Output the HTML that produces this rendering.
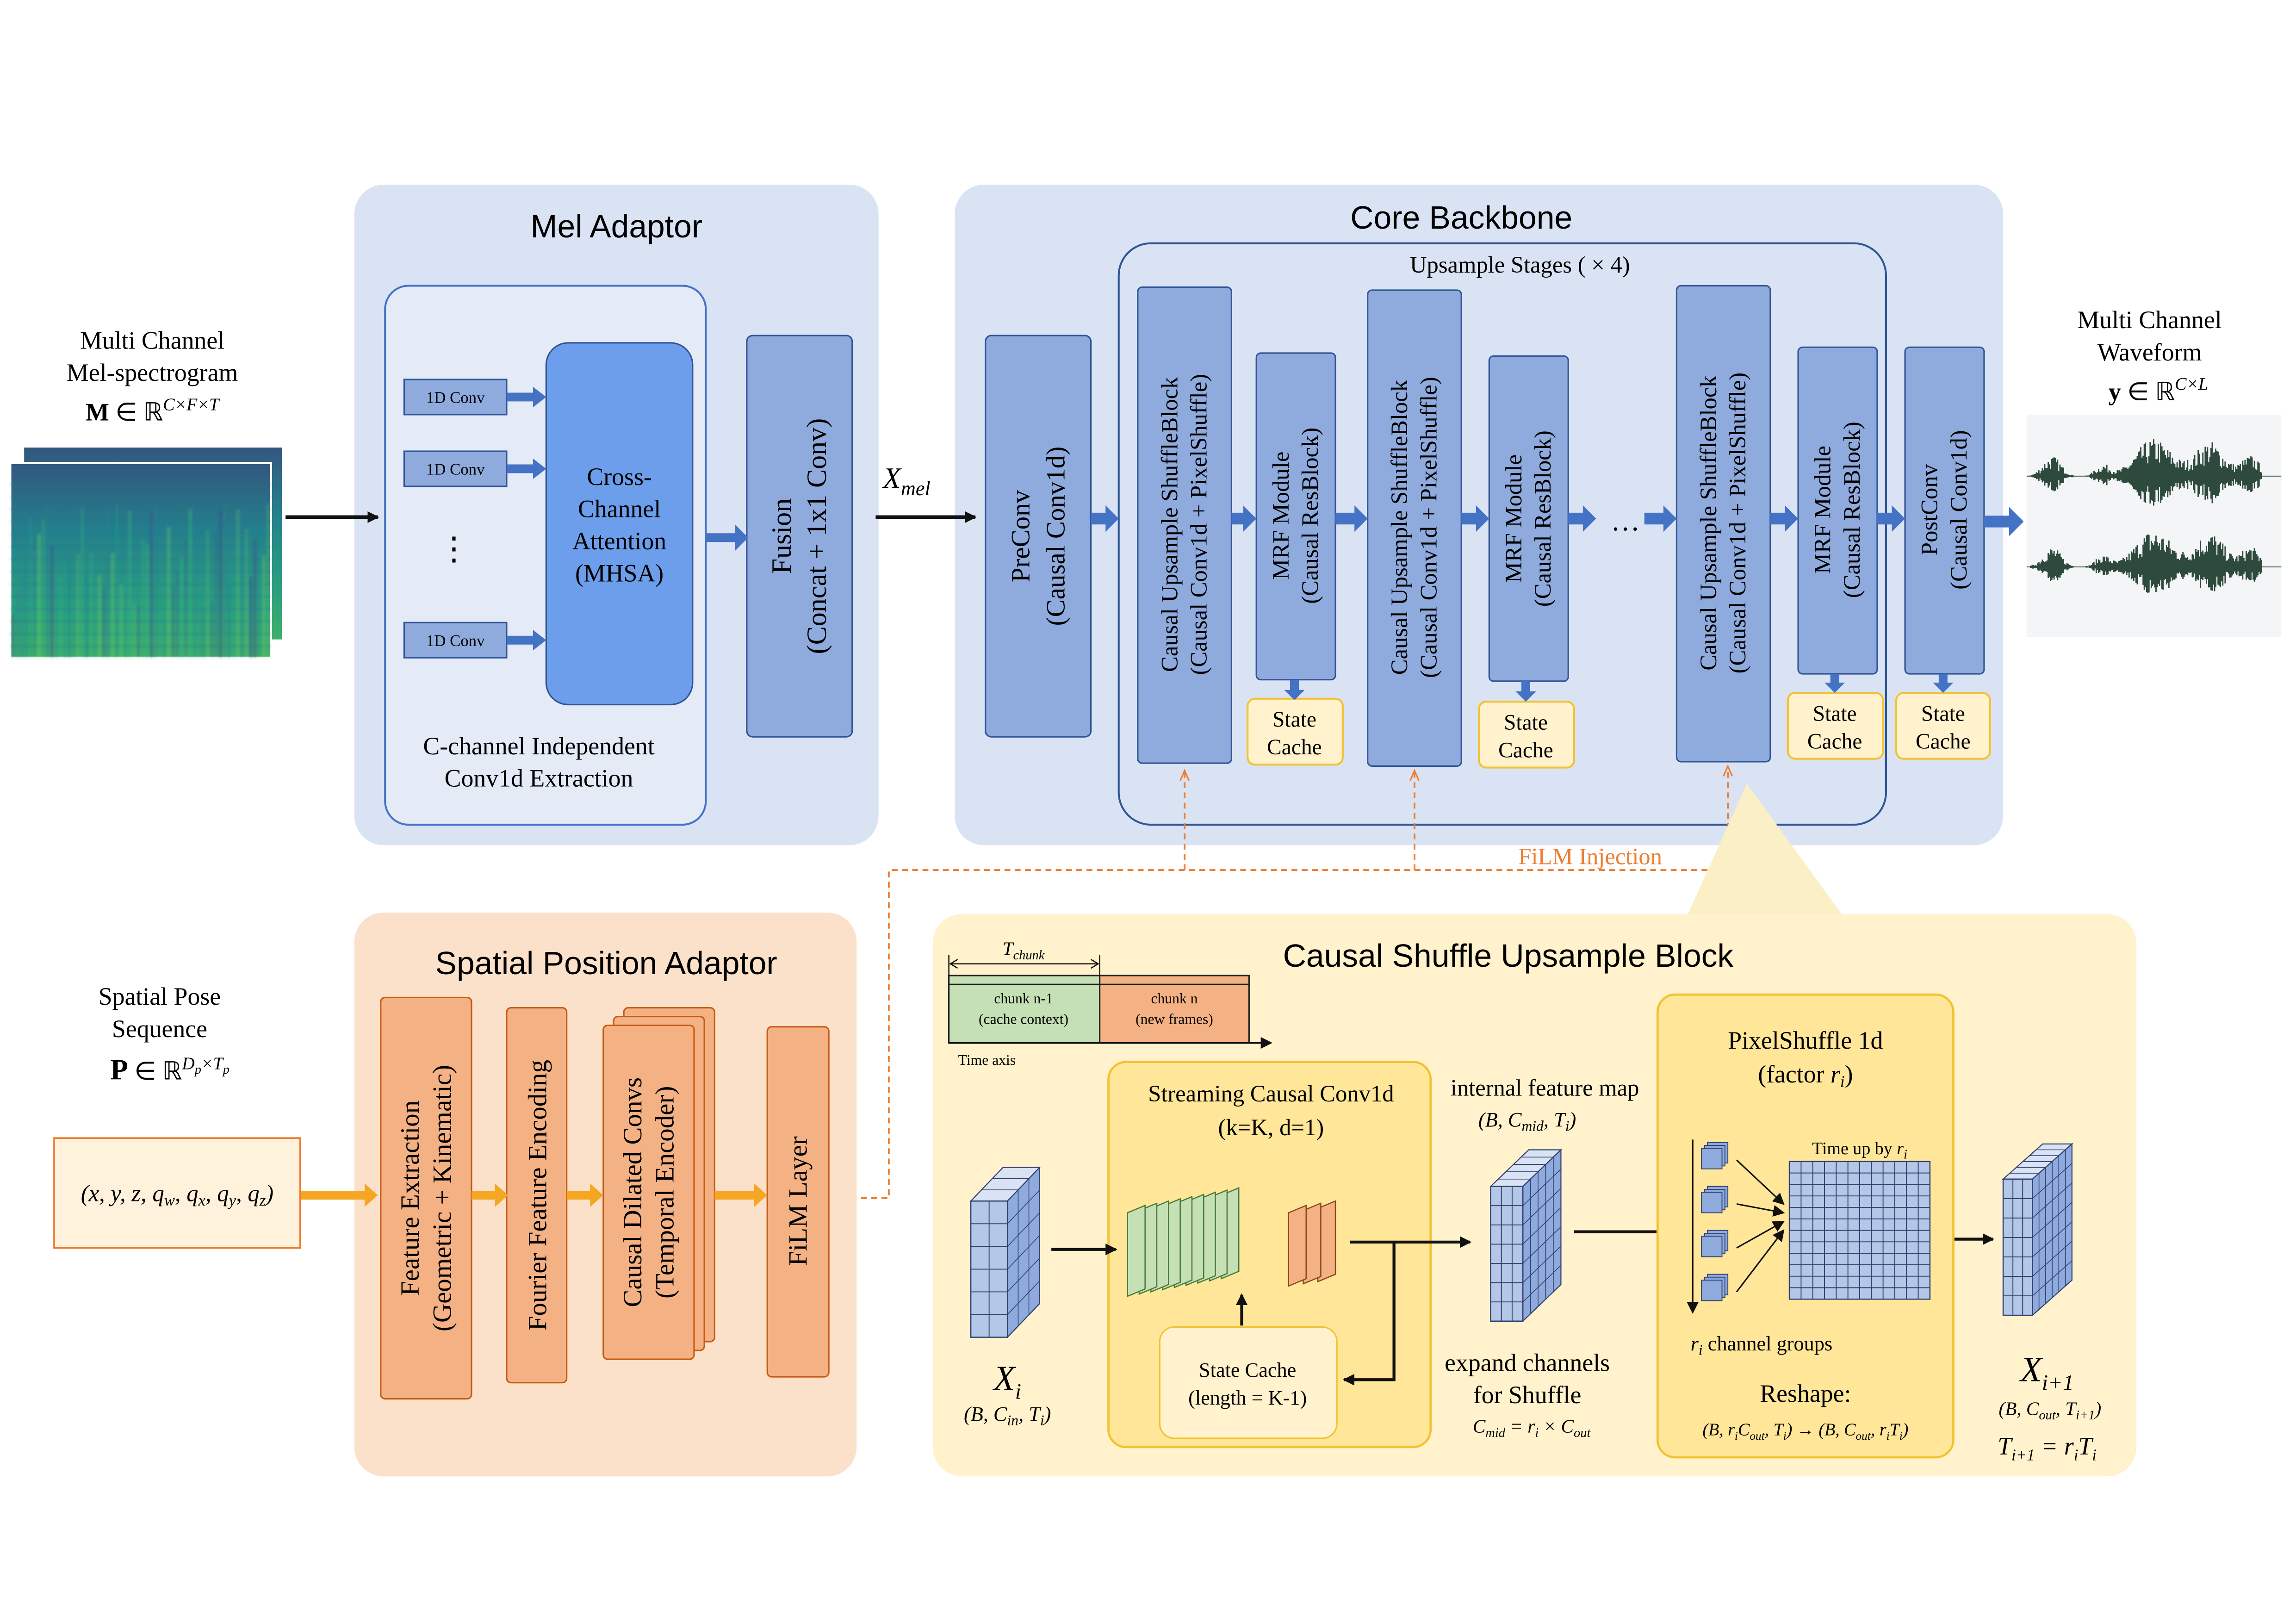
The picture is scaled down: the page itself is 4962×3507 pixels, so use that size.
<!DOCTYPE html>
<html><head><meta charset="utf-8"><style>
html,body{margin:0;padding:0;background:#fff}
svg{display:block}
.s{font-family:"Liberation Sans",sans-serif}
.r{font-family:"Liberation Serif",serif}
</style></head><body>
<svg id="sv" width="4962" height="3507" viewBox="0 0 1568 1108" xmlns="http://www.w3.org/2000/svg">
<defs>
<marker id="ab" markerWidth="8" markerHeight="8" refX="7" refY="4" orient="auto" markerUnits="userSpaceOnUse"><path d="M0,0 L8,4 L0,8 z" fill="#111"/></marker>
<marker id="ao" markerWidth="8" markerHeight="8" refX="7" refY="4" orient="auto" markerUnits="userSpaceOnUse"><path d="M0,1 L7,4 L0,7" fill="none" stroke="#ed7d31" stroke-width="1"/></marker>
<linearGradient id="spg" x1="0" y1="0" x2="0" y2="1"><stop offset="0" stop-color="#33577f"/><stop offset="0.35" stop-color="#23808c"/><stop offset="0.75" stop-color="#2aa07f"/><stop offset="1" stop-color="#3fae6a"/></linearGradient>
<filter id="bl"><feGaussianBlur stdDeviation="0.8"/></filter>
</defs>

<!-- Mel Adaptor -->
<rect x="242" y="126" width="358" height="451" rx="20" fill="#dae3f3"/>
<text x="421" y="162" class="s" font-size="22" text-anchor="middle">Mel Adaptor</text>
<rect x="263" y="195" width="219" height="368" rx="16" fill="#e4ebf7" stroke="#4472c4" stroke-width="1.3"/>
<g fill="#8faadc" stroke="#2f5597" stroke-width="1">
<rect x="276" y="259" width="70" height="24"/><rect x="276" y="308" width="70" height="24"/><rect x="276" y="425" width="70" height="24"/>
</g>
<g class="r" font-size="11" text-anchor="middle"><text x="311" y="275">1D Conv</text><text x="311" y="324">1D Conv</text><text x="311" y="441">1D Conv</text></g>
<text x="310" y="382" class="r" font-size="22" text-anchor="middle">⋮</text>
<rect x="373" y="234" width="100" height="247" rx="15" fill="#6d9eeb" stroke="#2f5597"/>
<g class="r" font-size="17" text-anchor="middle"><text x="423" y="331">Cross-</text><text x="423" y="353">Channel</text><text x="423" y="375">Attention</text><text x="423" y="397">(MHSA)</text></g>
<rect x="510" y="229" width="72" height="274" rx="4" fill="#8faadc" stroke="#2f5597"/>
<text transform="translate(546,366) rotate(-90)" class="r" font-size="19" text-anchor="middle"><tspan x="0" y="-6">Fusion</tspan><tspan x="0" y="18">(Concat + 1x1 Conv)</tspan></text>
<g class="r" font-size="17" text-anchor="middle"><text x="368" y="515">C-channel Independent</text><text x="368" y="537">Conv1d Extraction</text></g>

<!-- Core Backbone -->
<rect x="652" y="126" width="716" height="451" rx="20" fill="#dae3f3"/>
<text x="998" y="156" class="s" font-size="22" text-anchor="middle">Core Backbone</text>
<rect x="764" y="166" width="524" height="397" rx="22" fill="none" stroke="#2f5597" stroke-width="1.3"/>
<text x="1038" y="186" class="r" font-size="16" text-anchor="middle">Upsample Stages ( × 4)</text>
<g fill="#8faadc" stroke="#2f5597" stroke-width="1">
<rect x="673" y="229" width="72" height="274" rx="4"/>
<rect x="777" y="196" width="64" height="325" rx="3"/>
<rect x="858" y="241" width="54" height="223" rx="3"/>
<rect x="934" y="198" width="64" height="325" rx="3"/>
<rect x="1017" y="243" width="54" height="222" rx="3"/>
<rect x="1145" y="195" width="64" height="325" rx="3"/>
<rect x="1228" y="237" width="54" height="223" rx="3"/>
<rect x="1301" y="237" width="54" height="223" rx="3"/>
</g>
<g class="r" font-size="18" text-anchor="middle">
<text transform="translate(709,366) rotate(-90)"><tspan x="0" y="-6">PreConv</tspan><tspan x="0" y="18">(Causal Conv1d)</tspan></text>
<text transform="translate(809,358) rotate(-90)" font-size="16"><tspan x="0" y="-5">Causal Upsample ShuffleBlock</tspan><tspan x="0" y="15">(Causal Conv1d + PixelShuffle)</tspan></text>
<text transform="translate(885,352) rotate(-90)" font-size="16"><tspan x="0" y="-5">MRF Module</tspan><tspan x="0" y="15">(Causal ResBlock)</tspan></text>
<text transform="translate(966,360) rotate(-90)" font-size="16"><tspan x="0" y="-5">Causal Upsample ShuffleBlock</tspan><tspan x="0" y="15">(Causal Conv1d + PixelShuffle)</tspan></text>
<text transform="translate(1044,354) rotate(-90)" font-size="16"><tspan x="0" y="-5">MRF Module</tspan><tspan x="0" y="15">(Causal ResBlock)</tspan></text>
<text transform="translate(1177,357) rotate(-90)" font-size="16"><tspan x="0" y="-5">Causal Upsample ShuffleBlock</tspan><tspan x="0" y="15">(Causal Conv1d + PixelShuffle)</tspan></text>
<text transform="translate(1255,348) rotate(-90)" font-size="16"><tspan x="0" y="-5">MRF Module</tspan><tspan x="0" y="15">(Causal ResBlock)</tspan></text>
<text transform="translate(1328,348) rotate(-90)" font-size="16"><tspan x="0" y="-5">PostConv</tspan><tspan x="0" y="15">(Causal Conv1d)</tspan></text>
</g>
<g fill="#fff2cc" stroke="#f1c232" stroke-width="1.3">
<rect x="852" y="477" width="65" height="45" rx="5"/><rect x="1010" y="479" width="65" height="45" rx="5"/>
<rect x="1221" y="473" width="65" height="45" rx="5"/><rect x="1295" y="473" width="64" height="45" rx="5"/>
</g>
<g class="r" font-size="15" text-anchor="middle">
<text x="884" y="496">State</text><text x="884" y="515">Cache</text>
<text x="1042" y="498">State</text><text x="1042" y="517">Cache</text>
<text x="1253" y="492">State</text><text x="1253" y="511">Cache</text>
<text x="1327" y="492">State</text><text x="1327" y="511">Cache</text>
</g>
<g fill="#4472c4">
<path d="M745,350 h10 v-5 l9,9 l-9,9 v-5 h-10z"/>
<path d="M841,350 h8 v-5 l9,9 l-9,9 v-5 h-8z"/>
<path d="M912,350 h13 v-5 l9,9 l-9,9 v-5 h-13z"/>
<path d="M998,350 h10 v-5 l9,9 l-9,9 v-5 h-10z"/>
<path d="M1071,350 h10 v-5 l9,9 l-9,9 v-5 h-10z"/>
<path d="M1123,350 h13 v-5 l9,9 l-9,9 v-5 h-13z"/>
<path d="M1209,350 h10 v-5 l9,9 l-9,9 v-5 h-10z"/>
<path d="M1282,350 h10 v-5 l9,9 l-9,9 v-5 h-10z"/>
<path d="M1355,352 h17 v-6 l10,10 l-10,10 v-6 h-17z"/>
<path d="M482,364 h20 v-6 l9,9 l-9,9 v-6 h-20z"/>
<path d="M346,268 h18 v-4 l9,7 l-9,7 v-4 h-18z"/>
<path d="M346,317 h18 v-4 l9,7 l-9,7 v-4 h-18z"/>
<path d="M346,434 h18 v-4 l9,7 l-9,7 v-4 h-18z"/>
<path d="M881,464 h6 v7 h4 l-7,7 l-7,-7 h4z"/>
<path d="M1039,465 h6 v7 h4 l-7,7 l-7,-7 h4z"/>
<path d="M1250,460 h6 v6 h4 l-7,7 l-7,-7 h4z"/>
<path d="M1324,460 h6 v6 h4 l-7,7 l-7,-7 h4z"/>
</g>
<text x="1110" y="362" class="r" font-size="20" text-anchor="middle">…</text>

<g class="r" font-size="17" text-anchor="middle"><text x="104" y="238">Multi Channel</text><text x="104" y="260">Mel-spectrogram</text>
<text x="104" y="287"><tspan font-weight="bold">M</tspan> ∈ ℝ<tspan font-style="italic" font-size="12" dy="-7">C×F×T</tspan></text></g>
<rect x="16" y="305" width="177" height="132" fill="url(#spg)" stroke="#fff" stroke-width="1"/>
<rect x="7" y="316" width="178" height="133" fill="url(#spg)" stroke="#fff" stroke-width="1.5"/>
<g id="spec" filter="url(#bl)"></g>
<line x1="195" y1="353" x2="258" y2="353" stroke="#111" stroke-width="2.5" marker-end="url(#ab)"/>
<line x1="598" y1="353" x2="666" y2="353" stroke="#111" stroke-width="2.5" marker-end="url(#ab)"/>
<text x="603" y="333" class="r" font-size="20" font-style="italic">X<tspan font-size="14" dy="5">mel</tspan></text>

<g class="r" font-size="17" text-anchor="middle"><text x="1468" y="224">Multi Channel</text><text x="1468" y="246">Waveform</text>
<text x="1474" y="273"><tspan font-weight="bold">y</tspan> ∈ ℝ<tspan font-style="italic" font-size="12" dy="-7">C×L</tspan></text></g>
<rect x="1384" y="283" width="174" height="152" fill="#f4f5f7"/>
<g id="wave"></g>

<g stroke="#ed7d31" stroke-width="1.2" stroke-dasharray="4,3" fill="none">
<path d="M567,818 H607 V594 H1180"/>
<line x1="809" y1="594" x2="809" y2="526" marker-end="url(#ao)"/>
<line x1="966" y1="594" x2="966" y2="526" marker-end="url(#ao)"/>
<line x1="1180" y1="594" x2="1180" y2="523" marker-end="url(#ao)"/>
</g>
<text x="1086" y="590" class="r" font-size="16" fill="#ed7d31" text-anchor="middle">FiLM Injection</text>

<path d="M1193,535 L1262,630 L1150,630 Z" fill="#fbefc6"/>

<rect x="242" y="623" width="343" height="385" rx="20" fill="#fbe1c9"/>
<text x="414" y="665" class="s" font-size="22" text-anchor="middle">Spatial Position Adaptor</text>
<g fill="#f4b183" stroke="#c55a11" stroke-width="1">
<rect x="260" y="681" width="62" height="274" rx="3"/>
<rect x="346" y="688" width="41" height="256" rx="3"/>
<rect x="426" y="688" width="62" height="228" rx="3"/>
<rect x="419" y="694" width="62" height="228" rx="3"/>
<rect x="412" y="700" width="62" height="228" rx="3"/>
<rect x="524" y="701" width="42" height="239" rx="3"/>
</g>
<g class="r" font-size="18" text-anchor="middle">
<text transform="translate(291,818) rotate(-90)"><tspan x="0" y="-5">Feature Extraction</tspan><tspan x="0" y="17">(Geometric + Kinematic)</tspan></text>
<text transform="translate(367,816) rotate(-90)"><tspan x="0" y="6">Fourier Feature Encoding</tspan></text>
<text transform="translate(443,814) rotate(-90)"><tspan x="0" y="-5">Causal Dilated Convs</tspan><tspan x="0" y="17">(Temporal Encoder)</tspan></text>
<text transform="translate(545,820) rotate(-90)"><tspan x="0" y="6">FiLM Layer</tspan></text>
</g>
<g fill="#f5a623">
<path d="M205,813 h44 v-5 l9,8 l-9,8 v-5 h-44z"/>
<path d="M322,813 h16 v-5 l9,8 l-9,8 v-5 h-16z"/>
<path d="M387,813 h16 v-5 l9,8 l-9,8 v-5 h-16z"/>
<path d="M488,813 h27 v-5 l9,8 l-9,8 v-5 h-27z"/>
</g>
<g class="r" font-size="17" text-anchor="middle"><text x="109" y="686">Spatial Pose</text><text x="109" y="708">Sequence</text>
<text x="116" y="737"><tspan font-weight="bold" font-size="20">P</tspan> ∈ ℝ<tspan font-style="italic" font-size="12" dy="-7">D</tspan><tspan font-style="italic" font-size="9" dy="3">p</tspan><tspan font-style="italic" font-size="12" dy="-3">×T</tspan><tspan font-style="italic" font-size="9" dy="3">p</tspan></text></g>
<rect x="37" y="777" width="168" height="75" fill="#fff2dc" stroke="#ed7d31" stroke-width="1.2"/>
<text x="121" y="820" class="r" font-size="16" text-anchor="middle" font-style="italic">(x, y, z, q<tspan font-size="11" dy="3">w</tspan><tspan dy="-3">, q</tspan><tspan font-size="11" dy="3">x</tspan><tspan dy="-3">, q</tspan><tspan font-size="11" dy="3">y</tspan><tspan dy="-3">, q</tspan><tspan font-size="11" dy="3">z</tspan><tspan dy="-3">)</tspan></text>

<rect x="637" y="624" width="822" height="384" rx="20" fill="#fff2cc"/>
<text x="1030" y="660" class="s" font-size="22" text-anchor="middle">Causal Shuffle Upsample Block</text>
<rect x="648" y="666" width="103" height="46" fill="#c5e0b4" stroke="#222" stroke-width="1"/>
<rect x="751" y="666" width="102" height="46" fill="#f4b183" stroke="#222" stroke-width="1"/>
<line x1="648" y1="672" x2="853" y2="672" stroke="#222" stroke-width="0.8"/>
<g class="r" font-size="10" text-anchor="middle"><text x="699" y="685">chunk n-1</text><text x="699" y="699">(cache context)</text><text x="802" y="685">chunk n</text><text x="802" y="699">(new frames)</text>
<text x="674" y="727">Time axis</text></g>
<line x1="648" y1="712" x2="868" y2="712" stroke="#111" stroke-width="1.2" marker-end="url(#ab)"/>
<line x1="649" y1="658" x2="750" y2="658" stroke="#111" stroke-width="0.8"/>
<path d="M654,655 L649,658 L654,661 M745,655 L750,658 L745,661" fill="none" stroke="#111" stroke-width="0.8"/>
<line x1="648" y1="652" x2="648" y2="666" stroke="#111" stroke-width="0.8"/><line x1="751" y1="652" x2="751" y2="666" stroke="#111" stroke-width="0.8"/>
<text x="699" y="652" class="r" font-size="13" text-anchor="middle" font-style="italic">T<tspan font-size="9" dy="3">chunk</tspan></text>

<rect x="757" y="725" width="220" height="263" rx="12" fill="#ffe699" stroke="#f1c232" stroke-width="1.5"/>
<g class="r" font-size="16" text-anchor="middle"><text x="868" y="752">Streaming Causal Conv1d</text><text x="868" y="775">(k=K, d=1)</text></g>
<g id="sheets"></g>
<rect x="792" y="906" width="121" height="76" rx="10" fill="#fff2cc" stroke="#f1c232" stroke-width="1"/>
<g class="r" font-size="14" text-anchor="middle"><text x="852" y="940">State Cache</text><text x="852" y="959">(length = K-1)</text></g>
<g stroke="#111" stroke-width="2" fill="none">
<line x1="848" y1="905" x2="848" y2="884" marker-end="url(#ab)"/>
<line x1="922" y1="848" x2="1004" y2="848" marker-end="url(#ab)"/>
<path d="M952,848 V942 H918" marker-end="url(#ab)"/>
<line x1="718" y1="853" x2="762" y2="853" marker-end="url(#ab)"/>
<line x1="1075" y1="841" x2="1148" y2="841" marker-end="url(#ab)"/>
<line x1="1320" y1="846" x2="1361" y2="846" marker-end="url(#ab)"/>
</g>
<g id="cubes"></g>
<g class="r" text-anchor="middle">
<text x="688" y="949" font-size="24" font-style="italic">X<tspan font-size="15" dy="6">i</tspan></text>
<text x="688" y="970" font-size="14" font-style="italic">(B, C<tspan font-size="10" dy="3">in</tspan><tspan dy="-3">, T</tspan><tspan font-size="10" dy="3">i</tspan><tspan dy="-3">)</tspan></text>
<text x="1055" y="748" font-size="16">internal feature map</text>
<text x="1043" y="769" font-size="14" font-style="italic">(B, C<tspan font-size="10" dy="3">mid</tspan><tspan dy="-3">, T</tspan><tspan font-size="10" dy="3">i</tspan><tspan dy="-3">)</tspan></text>
<text x="1043" y="936" font-size="17">expand channels</text>
<text x="1043" y="958" font-size="17">for Shuffle</text>
<text x="1046" y="978" font-size="13" font-style="italic">C<tspan font-size="9" dy="3">mid</tspan><tspan dy="-3"> = r</tspan><tspan font-size="9" dy="3">i</tspan><tspan dy="-3"> × C</tspan><tspan font-size="9" dy="3">out</tspan></text>
<text x="1398" y="943" font-size="24" font-style="italic">X<tspan font-size="15" dy="6">i+1</tspan></text>
<text x="1400" y="966" font-size="13" font-style="italic">(B, C<tspan font-size="9" dy="3">out</tspan><tspan dy="-3">, T</tspan><tspan font-size="9" dy="3">i+1</tspan><tspan dy="-3">)</tspan></text>
<text x="1398" y="993" font-size="17" font-style="italic">T<tspan font-size="11" dy="4">i+1</tspan><tspan dy="-4"> = r</tspan><tspan font-size="11" dy="4">i</tspan><tspan dy="-4">T</tspan><tspan font-size="11" dy="4">i</tspan></text>
</g>
<rect x="1132" y="679" width="202" height="316" rx="12" fill="#ffe699" stroke="#f1c232" stroke-width="1.5"/>
<g class="r" text-anchor="middle">
<text x="1233" y="716" font-size="17">PixelShuffle 1d</text>
<text x="1233" y="739" font-size="17">(factor <tspan font-style="italic">r<tspan font-size="11" dy="3">i</tspan></tspan><tspan dy="-3">)</tspan></text>
<text x="1270" y="788" font-size="12">Time up by <tspan font-style="italic">r<tspan font-size="9" dy="3">i</tspan></tspan></text>
<text x="1203" y="922" font-size="14"><tspan font-style="italic">r<tspan font-size="10" dy="3">i</tspan></tspan><tspan dy="-3"> channel groups</tspan></text>
<text x="1233" y="957" font-size="17">Reshape:</text>
<text x="1233" y="980" font-size="12" font-style="italic">(B, r<tspan font-size="8" dy="3">i</tspan><tspan dy="-3">C</tspan><tspan font-size="8" dy="3">out</tspan><tspan dy="-3">, T</tspan><tspan font-size="8" dy="3">i</tspan><tspan dy="-3">) → (B, C</tspan><tspan font-size="8" dy="3">out</tspan><tspan dy="-3">, r</tspan><tspan font-size="8" dy="3">i</tspan><tspan dy="-3">T</tspan><tspan font-size="8" dy="3">i</tspan><tspan dy="-3">)</tspan></text>
</g>
<line x1="1156" y1="778" x2="1156" y2="896" stroke="#111" stroke-width="1" marker-end="url(#ab)"/>
<g id="ps"></g>
</svg>
<script>
var NS="http://www.w3.org/2000/svg";
function el(p,t,a){var e=document.createElementNS(NS,t);for(var k in a)e.setAttribute(k,a[k]);document.getElementById(p).appendChild(e);return e;}
var seed=7;function rnd(){seed=(seed*16807)%2147483647;return seed/2147483647;}
for(var i=0;i<60;i++){var x=8+i*2.95;var h=30+rnd()*80;var c=["#35b779","#1f9e89","#6ece58","#26828e","#3e4989"][Math.floor(rnd()*5)];
el("spec","rect",{x:x,y:449-h,width:2,height:h,fill:c,opacity:0.2+rnd()*0.3});}
for(var j=0;j<14;j++){el("spec","rect",{x:7,y:330+j*8.5,width:178,height:1.5,fill:"#2b6e8e",opacity:0.3});}
function wave(cy){var env=function(x){var t=(x-1384)/174;var a=0;
a+=Math.exp(-Math.pow((t-0.1)/0.05,2))*14;a+=Math.exp(-Math.pow((t-0.3)/0.04,2))*8;a+=Math.exp(-Math.pow((t-0.5)/0.1,2))*26;a+=Math.exp(-Math.pow((t-0.72)/0.08,2))*24;a+=Math.exp(-Math.pow((t-0.88)/0.05,2))*14;return a;};
var s="";for(var x=1386;x<1545;x+=0.8){var a=env(x)*(0.3+rnd()*0.7);s+="M"+x+","+(cy-a)+"V"+(cy+a*0.8);}
el("wave","path",{d:s,stroke:"#2e4a3c","stroke-width":0.9,fill:"none"});
el("wave","line",{x1:1384,y1:cy,x2:1558,y2:cy,stroke:"#2e4a3c","stroke-width":0.6});}
wave(325);wave(387);
for(var i=8;i>=0;i--){el("sheets","path",{d:"M"+(770+i*8)+","+(828-i*1.5)+" l12,-5 v57 l-12,5z",fill:"#c5e0b4",stroke:"#4a7a3a","stroke-width":0.8});}
for(var i=2;i>=0;i--){el("sheets","path",{d:"M"+(880+i*10)+","+(828-i*1.5)+" l12,-5 v50 l-12,5z",fill:"#f4b183",stroke:"#8a4a1a","stroke-width":0.8});}
function cube(x,y,w,h,dx,dy,cols,rows,dep){
 var g="cubes";
 el(g,"path",{d:"M"+x+","+y+" l"+dx+","+(-dy)+" h"+w+" l"+(-dx)+","+dy+"z",fill:"#dae3f3",stroke:"#2f3f6f","stroke-width":0.7});
 el(g,"path",{d:"M"+(x+w)+","+y+" l"+dx+","+(-dy)+" v"+h+" l"+(-dx)+","+dy+"z",fill:"#8faadc",stroke:"#2f3f6f","stroke-width":0.7});
 el(g,"rect",{x:x,y:y,width:w,height:h,fill:"#b4c7e7",stroke:"#2f3f6f","stroke-width":0.8});
 for(var i=1;i<cols;i++)el(g,"line",{x1:x+w*i/cols,y1:y,x2:x+w*i/cols,y2:y+h,stroke:"#2f3f6f","stroke-width":0.6});
 for(var j=1;j<rows;j++)el(g,"line",{x1:x,y1:y+h*j/rows,x2:x+w,y2:y+h*j/rows,stroke:"#2f3f6f","stroke-width":0.6});
 for(var k=1;k<dep;k++){el(g,"line",{x1:x+w+dx*k/dep,y1:y-dy*k/dep,x2:x+w+dx*k/dep,y2:y+h-dy*k/dep,stroke:"#2f3f6f","stroke-width":0.5});
  el(g,"line",{x1:x+dx*k/dep,y1:y-dy*k/dep,x2:x+w+dx*k/dep,y2:y-dy*k/dep,stroke:"#2f3f6f","stroke-width":0.5});}
 for(var j=1;j<rows;j++)el(g,"line",{x1:x+w,y1:y+h*j/rows,x2:x+w+dx,y2:y+h*j/rows-dy,stroke:"#2f3f6f","stroke-width":0.5});
}
cube(663,820,25,93,22,23,2,6,3);
cube(1018,810,22,92,26,25,3,7,5);
cube(1368,805,20,93,27,24,3,7,6);
var g="ps";
for(var i=0;i<4;i++){var y=776+i*30;for(var k=2;k>=0;k--){el(g,"path",{d:"M"+(1162+k*2)+","+(y+8-k*2)+" h14 v14 h-14z",fill:"#8faadc",stroke:"#2f3f6f","stroke-width":0.6});}
 el(g,"line",{x1:1186,y1:y+16,x2:1218,y2:831+(i-1.5)*6,stroke:"#111","stroke-width":1,"marker-end":"url(#ab)"});}
el(g,"rect",{x:1222,y:793,width:96,height:94,fill:"#b4c7e7",stroke:"#2f3f6f","stroke-width":0.8});
for(var i=1;i<12;i++)el(g,"line",{x1:1222+i*8,y1:793,x2:1222+i*8,y2:887,stroke:"#2f3f6f","stroke-width":0.6});
for(var j=1;j<12;j++)el(g,"line",{x1:1222,y1:793+j*94/12,x2:1318,y2:793+j*94/12,stroke:"#2f3f6f","stroke-width":0.6});
</script>
</body></html>
